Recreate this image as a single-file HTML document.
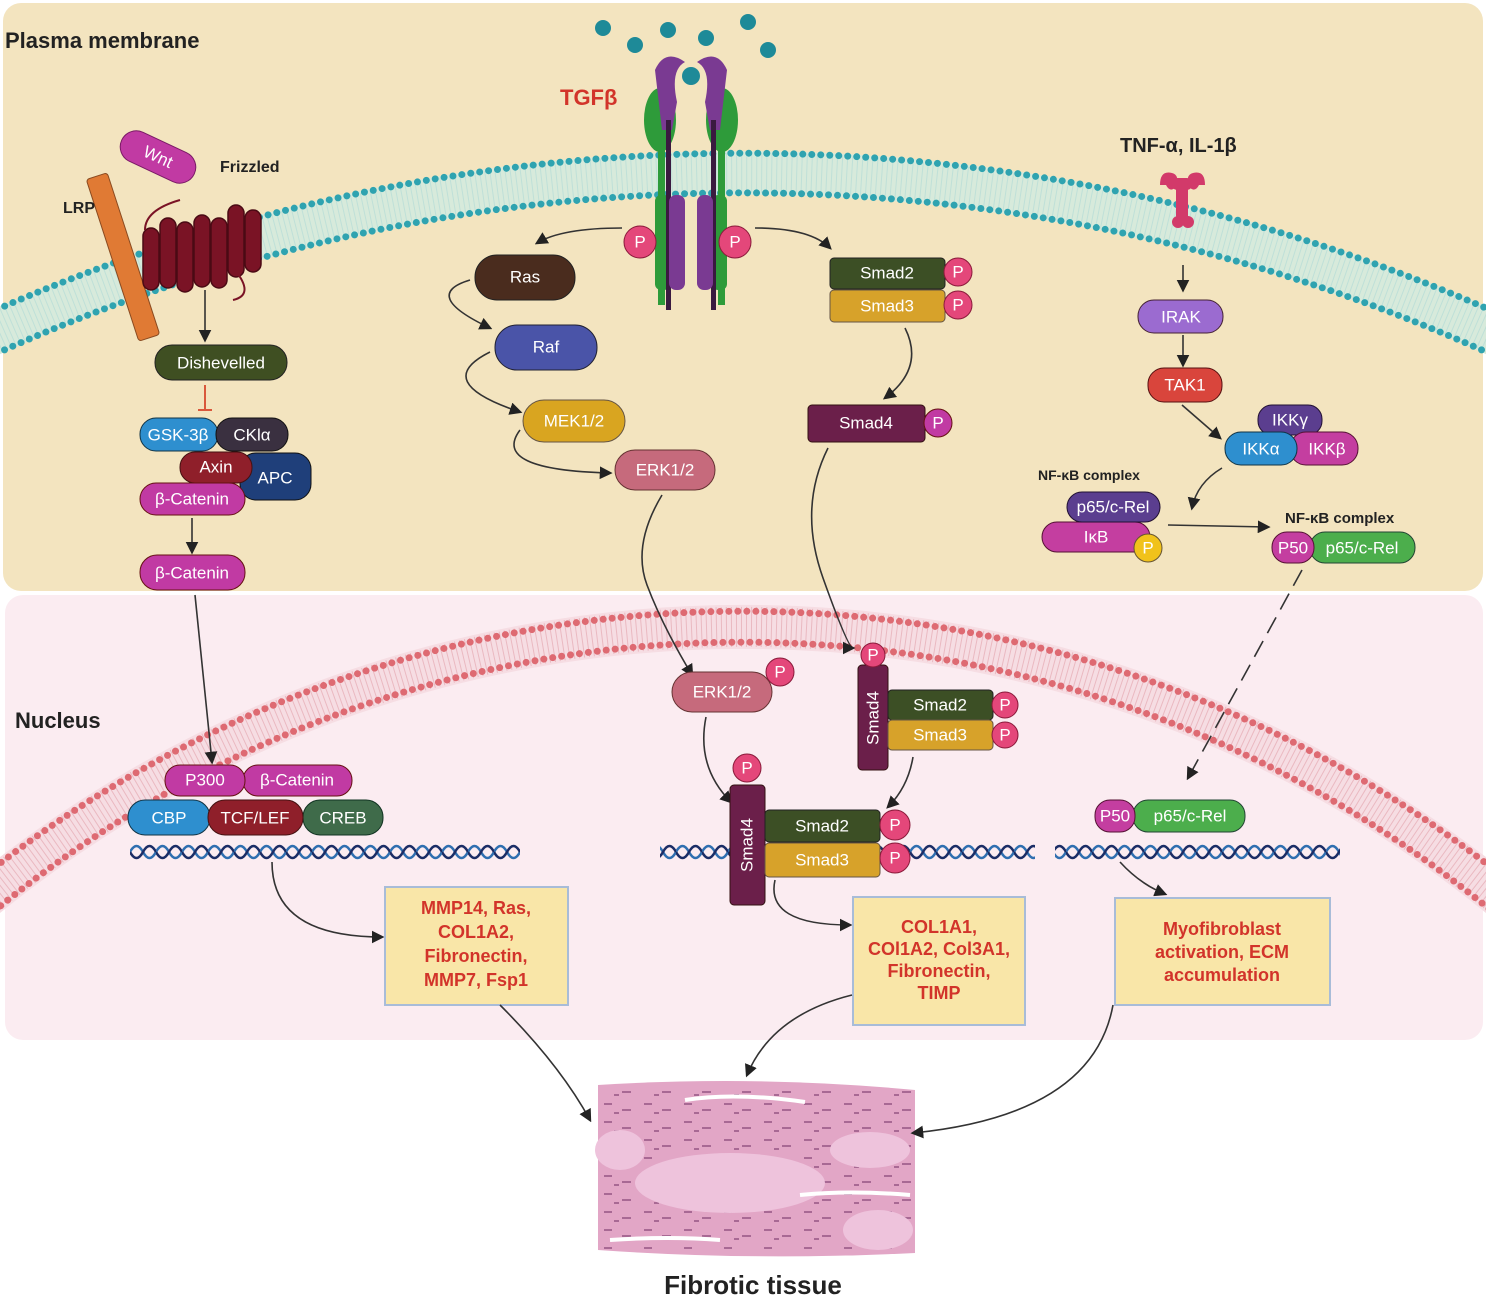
<!DOCTYPE html>
<html><head><meta charset="utf-8"><style>
html,body{margin:0;padding:0;background:#fff}
svg{display:block}
text{font-family:"Liberation Sans",Arial,sans-serif}
.w{fill:#fff;font-size:17px;text-anchor:middle;dominant-baseline:central}
.b{font-weight:bold;fill:#222}
.r{fill:#d2342a;font-weight:bold;font-size:18px;text-anchor:middle}
.pl{stroke:#333;stroke-width:1.6}
</style></head><body>
<svg width="1486" height="1308" viewBox="0 0 1486 1308" xmlns="http://www.w3.org/2000/svg">
<defs>
<marker id="a" viewBox="0 0 10 10" refX="8" refY="5" markerWidth="8" markerHeight="8" orient="auto"><path d="M0 0L10 5L0 10z" fill="#222"/></marker>
<pattern id="dna" width="26" height="24" patternUnits="userSpaceOnUse"><path d="M0 12Q6.5 0 13 12T26 12" fill="none" stroke="#2f6fb0" stroke-width="2.5"/><path d="M0 12Q6.5 24 13 12T26 12" fill="none" stroke="#1b2d66" stroke-width="2.5"/></pattern>
<pattern id="tis" width="40" height="18" patternUnits="userSpaceOnUse"><path d="M4 6h8M22 12h9M14 15h5" stroke="#9a5a88" stroke-width="2"/></pattern>
</defs>
<rect x="3" y="3" width="1480" height="588" rx="18" fill="#f3e4bf"/>
<rect x="5" y="595" width="1478" height="445" rx="18" fill="#fbecf1"/>
<!-- plasma membrane -->
<path d="M-20 339A1837 1837 0 0 1 1506 339" fill="none" stroke="#d7eadb" stroke-width="44"/>
<path d="M-20 339A1837 1837 0 0 1 1506 339" fill="none" stroke="#bfe0d8" stroke-width="40" stroke-dasharray="1 4"/>
<path d="M-20 317A1859 1859 0 0 1 1506 317" fill="none" stroke="#2fa3b0" stroke-width="7" stroke-dasharray="0 9" stroke-linecap="round"/>
<path d="M-20 361A1815 1815 0 0 1 1506 361" fill="none" stroke="#2fa3b0" stroke-width="7" stroke-dasharray="0 9" stroke-linecap="round"/>
<!-- nuclear membrane -->
<path d="M-20 901A1199 1199 0 0 1 1506 901" fill="none" stroke="#f6dde3" stroke-width="44"/>
<path d="M-20 901A1199 1199 0 0 1 1506 901" fill="none" stroke="#eab9c1" stroke-width="40" stroke-dasharray="1 4"/>
<path d="M-20 879A1221 1221 0 0 1 1506 879" fill="none" stroke="#de6a72" stroke-width="7" stroke-dasharray="0 9" stroke-linecap="round"/>
<path d="M-20 923A1177 1177 0 0 1 1506 923" fill="none" stroke="#de6a72" stroke-width="7" stroke-dasharray="0 9" stroke-linecap="round"/>

<text x="5" y="48" class="b" font-size="22">Plasma membrane</text>
<text x="15" y="728" class="b" font-size="22">Nucleus</text>

<!-- Wnt -->
<rect x="112" y="172" width="22" height="170" rx="3" fill="#e07a34" stroke="#8a4a20" transform="rotate(-18 123 257)"/>
<g transform="rotate(25 158 157)"><rect x="118" y="141" width="80" height="32" rx="16" fill="#c13aa3" stroke="#7a1a66"/><text x="158" y="157" class="w">Wnt</text></g>
<text x="220" y="172" class="b" font-size="16">Frizzled</text>
<text x="63" y="213" class="b" font-size="16">LRP</text>
<g fill="#7a1325" stroke="#4a0a14" stroke-width="1.5">
<rect x="143" y="228" width="16" height="62" rx="8"/><rect x="160" y="218" width="16" height="70" rx="8"/><rect x="177" y="222" width="16" height="70" rx="8"/><rect x="194" y="215" width="16" height="72" rx="8"/><rect x="211" y="218" width="16" height="70" rx="8"/><rect x="228" y="205" width="16" height="72" rx="8"/><rect x="245" y="210" width="16" height="62" rx="8"/>
</g>
<path d="M145 230q0-20 35-30M235 270q20 25 -2 30" fill="none" stroke="#7a1325" stroke-width="2"/>
<path d="M205 290V340" class="pl" marker-end="url(#a)"/>
<rect x="155" y="345" width="132" height="35" rx="17" fill="#3f4f22" stroke="#222"/><text x="221" y="363" class="w" font-size="19">Dishevelled</text>
<path d="M205 385v25M198 410h14" stroke="#d9583c" stroke-width="2"/>
<rect x="240" y="453" width="71" height="47" rx="16" fill="#1f3f7a" stroke="#111"/><text x="275" y="478" class="w">APC</text>
<rect x="140" y="418" width="78" height="33" rx="16" fill="#2e8fcf" stroke="#134"/><text x="178" y="435" class="w">GSK-3β</text>
<rect x="216" y="418" width="72" height="33" rx="16" fill="#3a3040" stroke="#111"/><text x="252" y="435" class="w">CKlα</text>
<rect x="180" y="452" width="72" height="31" rx="15" fill="#8f1f2a" stroke="#411"/><text x="216" y="467" class="w">Axin</text>
<rect x="140" y="483" width="105" height="32" rx="16" fill="#c13aa3" stroke="#611"/><text x="192" y="499" class="w" fill="#5a1050">β-Catenin</text>
<path d="M192 518V552" class="pl" marker-end="url(#a)"/>
<rect x="140" y="555" width="105" height="35" rx="17" fill="#c13aa3" stroke="#611"/><text x="192" y="573" class="w">β-Catenin</text>

<!-- TGFb -->
<text x="560" y="105" font-size="22" font-weight="bold" fill="#d2342a">TGFβ</text>
<g fill="#1e8a98"><circle cx="603" cy="28" r="8"/><circle cx="635" cy="45" r="8"/><circle cx="668" cy="30" r="8"/><circle cx="706" cy="38" r="8"/><circle cx="748" cy="22" r="8"/><circle cx="768" cy="50" r="8"/></g>
<g fill="#2e9b3a">
<ellipse cx="660" cy="120" rx="16" ry="32"/><ellipse cx="722" cy="120" rx="16" ry="32"/>
<rect x="658" y="105" width="7" height="200"/><rect x="718" y="105" width="7" height="200"/>
<rect x="655" y="195" width="15" height="95" rx="6"/><rect x="712" y="195" width="15" height="95" rx="6"/>
</g>
<g fill="#7a3a92">
<path d="M655 70q10 -22 30 -8q-15 8 -8 40l-5 28h-10z"/><path d="M727 70q-10 -22 -30 -8q15 8 8 40l5 28h10z"/>
<rect x="666" y="120" width="5" height="190" fill="#3a1a40"/><rect x="711" y="120" width="5" height="190" fill="#3a1a40"/>
<rect x="669" y="195" width="16" height="95" rx="7"/><rect x="697" y="195" width="16" height="95" rx="7"/>
</g>
<circle cx="691" cy="76" r="9" fill="#1e8a98"/>
<circle cx="640" cy="242" r="16" fill="#e4477a" stroke="#8a1a3a"/><text x="640" y="242" class="w">P</text>
<circle cx="735" cy="242" r="16" fill="#e4477a" stroke="#8a1a3a"/><text x="735" y="242" class="w">P</text>
<path d="M622 228q-60 0 -85 15" fill="none" class="pl" marker-end="url(#a)"/>
<path d="M755 228q55 0 75 20" fill="none" class="pl" marker-end="url(#a)"/>
<rect x="475" y="255" width="100" height="45" rx="22" fill="#4a2c1e" stroke="#222"/><text x="525" y="277" class="w" font-size="19">Ras</text>
<path d="M470 280q-50 15 20 48" fill="none" class="pl" marker-end="url(#a)"/>
<rect x="495" y="325" width="102" height="45" rx="22" fill="#4a54a8" stroke="#223"/><text x="546" y="347" class="w" font-size="19">Raf</text>
<path d="M490 352q-60 30 30 60" fill="none" class="pl" marker-end="url(#a)"/>
<rect x="523" y="400" width="102" height="42" rx="21" fill="#d9a520" stroke="#654"/><text x="574" y="421" class="w">MEK1/2</text>
<path d="M520 430q-30 40 90 43" fill="none" class="pl" marker-end="url(#a)"/>
<rect x="615" y="450" width="100" height="40" rx="20" fill="#c66a7c" stroke="#633"/><text x="665" y="470" class="w">ERK1/2</text>
<path d="M662 495q-30 50 -15 90t45 90" fill="none" class="pl" marker-end="url(#a)"/>
<rect x="830" y="258" width="115" height="31" rx="4" fill="#3c4f25" stroke="#222"/><text x="887" y="273" class="w">Smad2</text>
<rect x="830" y="290" width="115" height="32" rx="4" fill="#d7a22a" stroke="#654"/><text x="887" y="306" class="w">Smad3</text>
<circle cx="958" cy="272" r="14" fill="#e4477a" stroke="#8a1a3a"/><text x="958" y="272" class="w" font-size="14">P</text>
<circle cx="958" cy="305" r="14" fill="#e4477a" stroke="#8a1a3a"/><text x="958" y="305" class="w" font-size="14">P</text>
<path d="M905 328q20 40 -20 70" fill="none" class="pl" stroke-width="2" marker-end="url(#a)"/>
<rect x="808" y="405" width="117" height="37" rx="4" fill="#6b1f4a" stroke="#311"/><text x="866" y="423" class="w">Smad4</text>
<circle cx="938" cy="423" r="14" fill="#c13aa3" stroke="#611"/><text x="938" y="423" class="w" font-size="14">P</text>
<path d="M828 448q-30 60 -5 130t30 70" fill="none" class="pl" marker-end="url(#a)"/>

<!-- TNF -->
<text x="1120" y="152" class="b" font-size="20">TNF-α, IL-1β</text>
<g fill="#d23a6a"><path d="M1160 185q0 -15 12 -12q8 2 4 14q-6 6 -10 -2z"/><path d="M1205 185q0 -15 -12 -12q-8 2 -4 14q6 6 10 -2z"/><rect x="1176" y="180" width="12" height="40" rx="4"/><rect x="1172" y="178" width="20" height="12" rx="5"/><circle cx="1178" cy="222" r="6"/><circle cx="1188" cy="222" r="6"/></g>
<path d="M1183 265V290" class="pl" marker-end="url(#a)"/>
<rect x="1138" y="300" width="85" height="33" rx="16" fill="#9b6bd0" stroke="#423"/><text x="1181" y="317" class="w">IRAK</text>
<path d="M1183 335V365" class="pl" marker-end="url(#a)"/>
<rect x="1148" y="368" width="74" height="34" rx="16" fill="#d9453c" stroke="#511"/><text x="1185" y="385" class="w">TAK1</text>
<path d="M1182 405L1220 438" class="pl" marker-end="url(#a)"/>
<rect x="1258" y="405" width="64" height="30" rx="14" fill="#5b3e8f" stroke="#213"/><text x="1290" y="420" class="w">IKKγ</text>
<rect x="1290" y="432" width="68" height="33" rx="16" fill="#c43ea0" stroke="#513"/><text x="1327" y="449" class="w">IKKβ</text>
<rect x="1225" y="432" width="72" height="33" rx="16" fill="#2e8fcf" stroke="#134"/><text x="1261" y="449" class="w">IKKα</text>
<path d="M1222 468q-25 15 -30 40" fill="none" class="pl" marker-end="url(#a)"/>
<text x="1038" y="480" class="b" font-size="14">NF-κB complex</text>
<rect x="1042" y="522" width="108" height="30" rx="15" fill="#c43ea0" stroke="#513"/><text x="1096" y="537" class="w" font-size="15">IκB</text>
<rect x="1067" y="492" width="93" height="30" rx="15" fill="#5b3e8f" stroke="#213"/><text x="1113" y="507" class="w" font-size="15">p65/c-Rel</text>
<circle cx="1148" cy="548" r="14" fill="#f1c21b" stroke="#653"/><text x="1148" y="548" class="w" font-size="13" fill="#333">P</text>
<path d="M1168 525L1268 527" class="pl" marker-end="url(#a)"/>
<text x="1285" y="523" class="b" font-size="15">NF-κB complex</text>
<rect x="1310" y="532" width="105" height="31" rx="15" fill="#4cae4c" stroke="#243"/><text x="1362" y="548" class="w">p65/c-Rel</text>
<rect x="1272" y="532" width="42" height="31" rx="15" fill="#c43ea0" stroke="#513"/><text x="1293" y="548" class="w">P50</text>
<path d="M1302 570L1188 778" class="pl" stroke-dasharray="18 9" marker-end="url(#a)"/>

<!-- nucleus left -->
<path d="M195 595L212 762" class="pl" marker-end="url(#a)"/>
<rect x="243" y="765" width="109" height="31" rx="15" fill="#c13aa3" stroke="#611"/><text x="297" y="780" class="w">β-Catenin</text>
<rect x="165" y="765" width="80" height="31" rx="15" fill="#c13aa3" stroke="#611"/><text x="205" y="780" class="w">P300</text>
<rect x="128" y="800" width="82" height="35" rx="17" fill="#2e8fcf" stroke="#134"/><text x="169" y="818" class="w">CBP</text>
<rect x="303" y="800" width="80" height="35" rx="17" fill="#3f6b4a" stroke="#132"/><text x="343" y="818" class="w">CREB</text>
<rect x="208" y="800" width="95" height="35" rx="17" fill="#8f1f2a" stroke="#411"/><text x="255" y="818" class="w">TCF/LEF</text>
<rect x="130" y="840" width="390" height="24" fill="url(#dna)"/>
<path d="M272 862q0 75 110 75" fill="none" class="pl" marker-end="url(#a)"/>
<rect x="385" y="887" width="183" height="118" fill="#f9e6a8" stroke="#a8bcd8" stroke-width="2"/>
<text class="r"><tspan x="476" y="914">MMP14, Ras,</tspan><tspan x="476" y="938">COL1A2,</tspan><tspan x="476" y="962">Fibronectin,</tspan><tspan x="476" y="986">MMP7, Fsp1</tspan></text>

<!-- nucleus middle -->
<rect x="660" y="836" width="375" height="24" fill="url(#dna)"/>
<rect x="672" y="672" width="100" height="40" rx="20" fill="#c66a7c" stroke="#633"/><text x="722" y="692" class="w">ERK1/2</text>
<circle cx="780" cy="672" r="14" fill="#e4477a" stroke="#8a1a3a"/><text x="780" y="672" class="w" font-size="14">P</text>
<rect x="858" y="665" width="30" height="105" rx="4" fill="#6b1f4a" stroke="#311"/><text x="873" y="718" class="w" font-size="16" transform="rotate(-90 873 718)">Smad4</text>
<circle cx="873" cy="655" r="12" fill="#e4477a" stroke="#8a1a3a"/><text x="873" y="655" class="w" font-size="12">P</text>
<rect x="888" y="690" width="105" height="30" rx="4" fill="#3c4f25" stroke="#222"/><text x="940" y="705" class="w">Smad2</text>
<rect x="888" y="720" width="105" height="30" rx="4" fill="#d7a22a" stroke="#654"/><text x="940" y="735" class="w">Smad3</text>
<circle cx="1005" cy="705" r="13" fill="#e4477a" stroke="#8a1a3a"/><text x="1005" y="705" class="w" font-size="13">P</text>
<circle cx="1005" cy="735" r="13" fill="#e4477a" stroke="#8a1a3a"/><text x="1005" y="735" class="w" font-size="13">P</text>
<path d="M706 717q-10 50 25 85" fill="none" class="pl" stroke-width="2" marker-end="url(#a)"/>
<path d="M913 757q-5 30 -25 50" fill="none" class="pl" stroke-width="2" marker-end="url(#a)"/>
<rect x="730" y="785" width="35" height="120" rx="4" fill="#6b1f4a" stroke="#311"/><text x="747" y="845" class="w" font-size="18" transform="rotate(-90 747 845)">Smad4</text>
<circle cx="747" cy="768" r="14" fill="#e4477a" stroke="#8a1a3a"/><text x="747" y="768" class="w" font-size="13">P</text>
<rect x="765" y="810" width="115" height="32" rx="4" fill="#3c4f25" stroke="#222"/><text x="822" y="826" class="w" font-size="18">Smad2</text>
<rect x="765" y="843" width="115" height="34" rx="4" fill="#d7a22a" stroke="#654"/><text x="822" y="860" class="w" font-size="18">Smad3</text>
<circle cx="895" cy="825" r="15" fill="#e4477a" stroke="#8a1a3a"/><text x="895" y="825" class="w" font-size="15">P</text>
<circle cx="895" cy="858" r="15" fill="#e4477a" stroke="#8a1a3a"/><text x="895" y="858" class="w" font-size="15">P</text>
<path d="M775 880q-10 45 75 45" fill="none" class="pl" marker-end="url(#a)"/>
<rect x="853" y="897" width="172" height="128" fill="#f9e6a8" stroke="#a8bcd8" stroke-width="2"/>
<text class="r" font-size="17"><tspan x="939" y="933">COL1A1,</tspan><tspan x="939" y="955">COl1A2, Col3A1,</tspan><tspan x="939" y="977">Fibronectin,</tspan><tspan x="939" y="999">TIMP</tspan></text>

<!-- nucleus right -->
<rect x="1055" y="836" width="285" height="24" fill="url(#dna)"/>
<rect x="1133" y="800" width="112" height="32" rx="15" fill="#4cae4c" stroke="#243"/><text x="1190" y="816" class="w">p65/c-Rel</text>
<rect x="1095" y="800" width="40" height="32" rx="15" fill="#c43ea0" stroke="#513"/><text x="1115" y="816" class="w">P50</text>
<path d="M1120 862q20 22 45 32" fill="none" class="pl" marker-end="url(#a)"/>
<rect x="1115" y="898" width="215" height="107" fill="#f9e6a8" stroke="#a8bcd8" stroke-width="2"/>
<text class="r"><tspan x="1222" y="935">Myofibroblast</tspan><tspan x="1222" y="958">activation, ECM</tspan><tspan x="1222" y="981">accumulation</tspan></text>

<!-- tissue -->
<path d="M598 1085q160 -10 317 5v163q-160 8 -317 -3z" fill="#e2a6c6"/>
<rect x="598" y="1090" width="317" height="160" fill="url(#tis)" opacity="0.8"/>
<ellipse cx="730" cy="1183" rx="95" ry="30" fill="#eec3dc"/><ellipse cx="870" cy="1150" rx="40" ry="18" fill="#eec3dc"/><ellipse cx="620" cy="1150" rx="25" ry="20" fill="#eec3dc"/><ellipse cx="878" cy="1230" rx="35" ry="20" fill="#eec3dc"/>
<path d="M685 1100q50 -8 120 2M800 1195q50 -5 110 0M610 1240q60 -4 110 0" stroke="#fff" stroke-width="4" fill="none"/>
<path d="M500 1005q60 60 90 115" fill="none" class="pl" stroke-width="2" marker-end="url(#a)"/>
<path d="M852 995q-80 20 -105 80" fill="none" class="pl" stroke-width="2" marker-end="url(#a)"/>
<path d="M1113 1005q-20 110 -200 128" fill="none" class="pl" stroke-width="2" marker-end="url(#a)"/>
<text x="753" y="1294" class="b" font-size="26" text-anchor="middle">Fibrotic tissue</text>
</svg>
</body></html>
